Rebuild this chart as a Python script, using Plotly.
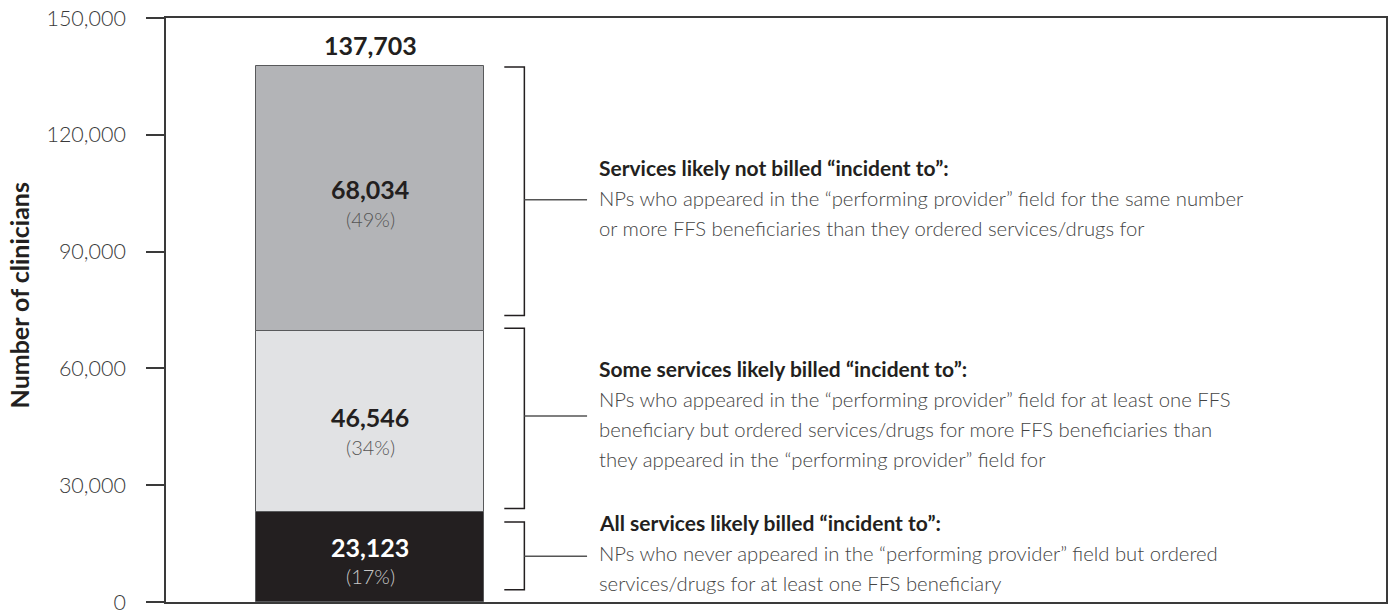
import plotly.graph_objects as go

# ---- data ----
segment_names = ["All services likely billed \u201cincident to\u201d",
                 "Some services likely billed \u201cincident to\u201d",
                 "Services likely not billed \u201cincident to\u201d"]
segment_values = [23123, 46546, 68034]
segment_pcts = ["(17%)", "(34%)", "(49%)"]
total_value = 137703
y_ticks = [0, 30000, 60000, 90000, 120000, 150000]
y_tick_labels = ["0", "30,000", "60,000", "90,000", "120,000", "150,000"]

headings = ["All services likely billed \u201cincident to\u201d:",
            "Some services likely billed \u201cincident to\u201d:",
            "Services likely not billed \u201cincident to\u201d:"]
descriptions = [
    ["NPs who never appeared in the \u201cperforming provider\u201d field but ordered",
     "services/drugs for at least one FFS beneficiary"],
    ["NPs who appeared in the \u201cperforming provider\u201d field for at least one FFS",
     "beneficiary but ordered services/drugs for more FFS beneficiaries than",
     "they appeared in the \u201cperforming provider\u201d field for"],
    ["NPs who appeared in the \u201cperforming provider\u201d field for the same number",
     "or more FFS beneficiaries than they ordered services/drugs for"],
]

# ---- styles / layout ----
seg_colors = ["#231f20", "#e1e2e4", "#b3b4b7"]
num_colors = ["#ffffff", "#231f20", "#231f20"]
pct_colors = ["#c8c8c8", "#555555", "#555555"]
num_shift = [10, 4, 9]
pct_shift = [-19, -26, -21]
FONT = "Lato"
AX = "#3a3a3a"

# bracket spans (data units) and stub position
bracket_spans = [(3160, 20560, 11750), (24010, 70290, 47790), (73580, 137440, 103300)]
text_top = [20300, 59900, 111600]

fig = go.Figure()
base = 0
for i, v in enumerate(segment_values):
    fig.add_trace(go.Bar(x=[0], y=[v], base=[base], width=1,
                         marker=dict(color=seg_colors[i], line=dict(color="#58595b", width=1)),
                         showlegend=False, hoverinfo="skip"))
    mid = base + v / 2
    fig.add_annotation(x=0, y=mid, yshift=num_shift[i], text=f"<b>{v:,}</b>", showarrow=False,
                       font=dict(family=FONT, size=25, color=num_colors[i]))
    fig.add_annotation(x=0, y=mid, yshift=pct_shift[i], text=segment_pcts[i], showarrow=False,
                       font=dict(family=FONT, size=20, color=pct_colors[i], weight=300))
    base += v

fig.add_annotation(x=0, y=total_value, yshift=21, text=f"<b>{total_value:,}</b>", showarrow=False,
                   font=dict(family=FONT, size=25, color="#231f20"))

# brackets
x_in, x_v, x_out, x_txt = 0.589, 0.677, 0.952, 0.995
for (lo, hi, stub), top, head, desc in zip(bracket_spans, text_top, headings, descriptions):
    fig.add_shape(type="path", xref="x", yref="y",
                  path=f"M {x_in},{hi} L {x_v},{hi} L {x_v},{lo} L {x_in},{lo}",
                  line=dict(color="#231f20", width=1.5))
    fig.add_shape(type="line", xref="x", yref="y", x0=x_v, x1=x_out, y0=stub, y1=stub,
                  line=dict(color="#555555", width=1.5))
    fig.add_annotation(x=x_txt, y=top, xanchor="left", yanchor="middle", showarrow=False,
                       text=f"<b>{head}</b>", font=dict(family=FONT, size=21, color="#231f20"))
    for k, line in enumerate(desc):
        fig.add_annotation(x=x_txt, y=top, yshift=-30 * (k + 1), xanchor="left", yanchor="middle",
                           showarrow=False, text=line,
                           font=dict(family=FONT, size=20.3, color="#444444", weight=300))

fig.add_annotation(xref="paper", yref="paper", x=-0.1205, y=0.525, text="<b>Number of clinicians</b>",
                   textangle=-90, showarrow=False, xanchor="center", yanchor="middle",
                   font=dict(family=FONT, size=25, color="#231f20", weight=900))

fig.update_layout(
    width=1388, height=611, margin=dict(l=166, r=2, t=18, b=9, autoexpand=False),
    paper_bgcolor="white", plot_bgcolor="white", barmode="overlay", bargap=0,
    xaxis=dict(range=[-0.8947, 4.456], showticklabels=False, ticks="", showgrid=False,
               zeroline=False, showline=True, linecolor=AX, linewidth=1.5, mirror=True, fixedrange=True),
    yaxis=dict(range=[0, 150000], tickvals=y_ticks, ticktext=y_tick_labels, ticks="outside", ticklen=18,
               tickwidth=1.5, tickcolor=AX, showgrid=False, zeroline=False, showline=True,
               linecolor=AX, linewidth=1.5, mirror=True, ticklabelstandoff=16,
               ticklabeloverflow="allow", automargin=False,
               tickfont=dict(family=FONT, size=21.5, color="#3a3a3a", weight=300)),
)

fig.write_html("out.html", config={"displayModeBar": False},
               post_script="document.body.style.margin='0px';document.body.style.overflow='hidden';")
